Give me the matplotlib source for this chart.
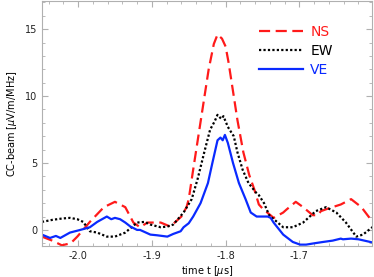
import matplotlib
matplotlib.use('Agg')
import matplotlib.pyplot as plt
import numpy as np
from matplotlib.ticker import MultipleLocator

# time [us] and beam values [uV/m/MHz]
t_ns = [-2.049, -2.035, -2.022, -2.010, -2.001, -1.984, -1.965, -1.950, -1.936, -1.925,
        -1.916, -1.906, -1.888, -1.875, -1.860, -1.853, -1.850, -1.844, -1.837, -1.830,
        -1.823, -1.816, -1.811, -1.805, -1.800, -1.796, -1.789, -1.784, -1.776, -1.768,
        -1.761, -1.755, -1.750, -1.735, -1.722, -1.718, -1.705, -1.695, -1.682, -1.675,
        -1.671, -1.661, -1.644, -1.630, -1.616, -1.605, -1.600]
ns = [-0.5, -0.8, -1.15, -1.0, -0.5, 0.6, 1.7, 2.1, 1.7, 0.55,
      0.2, 0.55, 0.55, 0.25, 1.0, 1.7, 2.3, 4.5, 7.0, 9.5,
      12.0, 13.9, 14.6, 14.3, 13.7, 12.5, 10.0, 8.2, 5.8, 4.1,
      3.0, 1.9, 1.6, 0.9, 1.3, 1.5, 2.1, 1.7, 1.1, 1.1,
      1.4, 1.6, 1.9, 2.3, 1.7, 0.9, 0.8]

t_ew = [-2.049, -2.035, -2.022, -2.011, -2.001, -1.993, -1.984, -1.974, -1.961, -1.950,
        -1.943, -1.936, -1.920, -1.910, -1.902, -1.888, -1.879, -1.871, -1.857, -1.846,
        -1.838, -1.829, -1.821, -1.815, -1.811, -1.806, -1.803, -1.797, -1.789, -1.784,
        -1.777, -1.769, -1.759, -1.755, -1.748, -1.741, -1.722, -1.709, -1.695, -1.678,
        -1.664, -1.650, -1.637, -1.623, -1.614, -1.600]
ew = [0.6, 0.75, 0.85, 0.9, 0.8, 0.6, -0.1, -0.2, -0.5, -0.5,
      -0.35, -0.2, 0.55, 0.6, 0.4, 0.2, 0.25, 0.4, 1.3, 2.3,
      3.8, 5.8, 7.5, 8.1, 8.6, 8.3, 8.5, 7.7, 7.0, 5.8,
      4.5, 3.5, 2.8, 2.6, 2.0, 1.1, 0.2, 0.2, 0.55, 1.4,
      1.7, 1.3, 0.55, -0.5, -0.35, 0.25]

t_ve = [-2.049, -2.038, -2.030, -2.024, -2.011, -1.997, -1.984, -1.974, -1.961, -1.955,
        -1.950, -1.943, -1.936, -1.929, -1.920, -1.916, -1.902, -1.893, -1.879, -1.871,
        -1.861, -1.857, -1.850, -1.844, -1.834, -1.824, -1.818, -1.811, -1.807, -1.804,
        -1.801, -1.797, -1.790, -1.782, -1.773, -1.766, -1.758, -1.752, -1.743, -1.739,
        -1.735, -1.722, -1.709, -1.699, -1.691, -1.680, -1.668, -1.655, -1.644, -1.641,
        -1.630, -1.620, -1.604, -1.600]
ve = [-0.35, -0.6, -0.45, -0.6, -0.2, 0.0, 0.2, 0.6, 1.0, 0.8,
      0.9, 0.8, 0.55, 0.25, 0.0, 0.0, -0.35, -0.4, -0.5, -0.3,
      -0.1, 0.2, 0.5, 1.0, 2.0, 3.5, 5.0, 6.7, 6.9, 6.7,
      7.1, 6.5, 5.0, 3.5, 2.3, 1.3, 1.0, 1.0, 1.0, 0.9,
      0.55, -0.35, -0.9, -1.1, -1.1, -1.0, -0.9, -0.8, -0.65, -0.7,
      -0.65, -0.7, -0.9, -0.95]

fig = plt.figure(figsize=(3.74, 2.77), dpi=100)
ax = fig.add_axes([0.112, 0.112, 0.883, 0.884])

ax.plot(t_ns, ns, color='#ff1a1a', linestyle=(0, (5, 2.5)), linewidth=1.6, label='NS')
ax.plot(t_ew, ew, color='black', linestyle=(0, (1, 1)), linewidth=1.6, label='EW')
ax.plot(t_ve, ve, color='#0a2aff', linestyle='-', linewidth=1.6, label='VE')

ax.set_xlim(-2.049, -1.6015)
ax.set_ylim(-1.2, 17.1)
ax.xaxis.set_major_locator(MultipleLocator(0.1))
ax.xaxis.set_minor_locator(MultipleLocator(0.02))
ax.yaxis.set_major_locator(MultipleLocator(5))
ax.yaxis.set_minor_locator(MultipleLocator(1))
ax.xaxis.set_major_formatter(matplotlib.ticker.FormatStrFormatter('%.1f'))

for s in ax.spines.values():
    s.set_color('#b0b0b0')
    s.set_linewidth(0.8)
ax.tick_params(which='both', direction='in', top=True, right=True, color='#b0b0b0',
               labelsize=7, labelcolor='#222222')
ax.tick_params(which='major', length=4)
ax.tick_params(which='minor', length=2)

ax.set_xlabel('time t [$\\mu$s]', fontsize=7, labelpad=2)
ax.set_ylabel('CC-beam [$\\mu$V/m/MHz]', fontsize=7, labelpad=4)

ax.legend(loc='upper left', bbox_to_anchor=(0.64, 0.925), frameon=False, fontsize=10,
          handlelength=3.2, handletextpad=0.5, labelspacing=0.35, labelcolor='linecolor',
          borderaxespad=0)

plt.savefig('out.png', dpi=100)
